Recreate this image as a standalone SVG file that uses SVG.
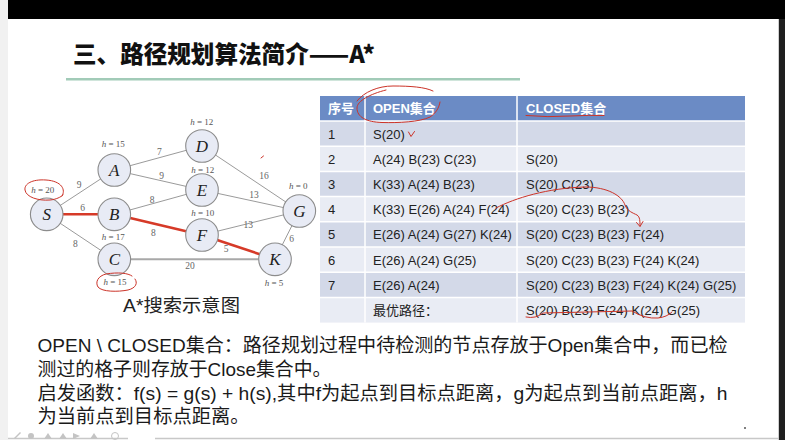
<svg xmlns="http://www.w3.org/2000/svg" width="785" height="440" viewBox="0 0 785 440">
<style>
.node circle{fill:#e8ebf5;stroke:#8c8c8c;stroke-width:1.1}
.nl{font-family:"Liberation Serif",serif;font-style:italic;font-size:17px;fill:#222;text-anchor:middle}
.hl{font-family:"Liberation Serif",serif;font-size:9px;fill:#555;text-anchor:middle}
.el{font-family:"Liberation Serif",serif;font-size:9.5px;fill:#666;text-anchor:middle}
.e{stroke:#8f8f8f;stroke-width:0.9;fill:none}
.er{stroke:#d63a28;stroke-width:2.6;fill:none}
.ann{stroke:#cc3328;stroke-width:1;fill:none;stroke-linecap:round}
.td{font-family:"Liberation Sans","Noto Sans CJK SC",sans-serif;font-size:13px;fill:#222}
.th{font-family:"Liberation Sans","Noto Sans CJK SC",sans-serif;font-size:13px;fill:#fff;font-weight:bold}
.bt{font-family:"Liberation Sans","Noto Sans CJK SC",sans-serif;font-size:19px;fill:#1a1a1a}
.dk{fill:#d3d9e8}
.lt{fill:#e9ecf4}
</style>
<rect width="785" height="440" fill="#ffffff"/>
<rect x="0" y="0" width="8" height="440" fill="#f1f1f1"/>
<rect x="8" y="0" width="777" height="19" fill="#000"/>
<rect x="779" y="19" width="6" height="421" fill="#1f1f1f"/>
<line x1="778.5" y1="19" x2="778.5" y2="440" stroke="#cfcfcf" stroke-width="1"/>

<!-- title -->
<text x="73" y="63" font-family="'Noto Sans CJK SC','Liberation Sans',sans-serif" font-size="24" font-weight="900" fill="#111" textLength="302" lengthAdjust="spacingAndGlyphs">三、路径规划算法简介——A*</text>
<rect x="66" y="78" width="454" height="2.5" fill="#a2cbb8"/>

<!-- connectors -->
<g id="edges">
<line class="e" x1="46.7" y1="214.3" x2="114.3" y2="170"/>
<line class="e" x1="46.7" y1="214.3" x2="114.3" y2="259.3"/>
<line class="e" x1="114.3" y1="170" x2="202" y2="146"/>
<line class="e" x1="114.3" y1="170" x2="202" y2="190"/>
<line class="e" x1="114.3" y1="214.3" x2="202" y2="190"/>
<line class="e" x1="202" y1="146" x2="299.3" y2="211"/>
<line class="e" x1="202" y1="190" x2="299.3" y2="211"/>
<line class="e" x1="202" y1="235" x2="299.3" y2="211"/>
<line class="e" x1="299.3" y1="211" x2="275" y2="259.3"/>
<line x1="114.3" y1="259.3" x2="275" y2="259.3" stroke="#a8a8a8" stroke-width="2"/>
<line class="er" x1="46.7" y1="214.3" x2="114.3" y2="214.3"/>
<line class="er" x1="114.3" y1="214.3" x2="202" y2="235"/>
<line class="er" x1="202" y1="235" x2="275" y2="259.3"/>
<text class="el" x="79" y="187.5">9</text>
<text class="el" x="82.7" y="211.2">6</text>
<text class="el" x="75.3" y="247.2">8</text>
<text class="el" x="159.3" y="155.2">7</text>
<text class="el" x="161.7" y="179.2">9</text>
<text class="el" x="152" y="202.5">8</text>
<text class="el" x="153.3" y="235.5">8</text>
<text class="el" x="264" y="179.2">16</text>
<text class="el" x="254" y="197.5">13</text>
<text class="el" x="248.3" y="227.5">13</text>
<text class="el" x="226" y="251.5">5</text>
<text class="el" x="291.7" y="241.5">6</text>
<text class="el" x="190" y="269.2">20</text>
</g>

<!-- nodes -->
<g id="node-S" class="node"><circle cx="46.7" cy="214.3" r="16.3"/><text class="nl" x="46.7" y="220.3">S</text><text class="hl" x="42.7" y="193"><tspan font-style="italic">h</tspan> = 20</text></g>
<g id="node-A" class="node"><circle cx="114.3" cy="170" r="16.3"/><text class="nl" x="114.3" y="176">A</text><text class="hl" x="113.3" y="147.2"><tspan font-style="italic">h</tspan> = 15</text></g>
<g id="node-B" class="node"><circle cx="114.3" cy="214.3" r="16.3"/><text class="nl" x="114.3" y="220.3">B</text></g>
<g id="node-C" class="node"><circle cx="114.3" cy="259.3" r="16.3"/><text class="nl" x="114.3" y="265.3">C</text><text class="hl" x="113.3" y="239.7"><tspan font-style="italic">h</tspan> = 17</text><text class="hl" x="115" y="284.8"><tspan font-style="italic">h</tspan> = 15</text></g>
<g id="node-D" class="node"><circle cx="202" cy="146" r="16.3"/><text class="nl" x="202" y="152">D</text><text class="hl" x="201.7" y="125.3"><tspan font-style="italic">h</tspan> = 12</text></g>
<g id="node-E" class="node"><circle cx="202" cy="190" r="16.3"/><text class="nl" x="202" y="196">E</text><text class="hl" x="202.7" y="173"><tspan font-style="italic">h</tspan> = 12</text></g>
<g id="node-F" class="node"><circle cx="202" cy="235" r="16.3"/><text class="nl" x="202" y="241">F</text><text class="hl" x="202.7" y="216.3"><tspan font-style="italic">h</tspan> = 10</text></g>
<g id="node-G" class="node"><circle cx="299.3" cy="211" r="16.3"/><text class="nl" x="299.3" y="217">G</text><text class="hl" x="298.3" y="189"><tspan font-style="italic">h</tspan> = 0</text></g>
<g id="node-K" class="node"><circle cx="275" cy="259.3" r="16.3"/><text class="nl" x="275" y="265.3">K</text><text class="hl" x="274" y="285.8"><tspan font-style="italic">h</tspan> = 5</text></g>

<!-- graph annotations -->
<path class="ann" d="M62,196 C66,190 62,181 46,180 C32,179 24,184 25,190 C26,197 38,201 50,200 C56,199.5 61,197 63,195"/>
<path class="ann" d="M132,276 C128,273 118,272 106,274 C98,276 95,282 98,287 C102,292 118,292 128,290 C136,288 138,283 135,279"/>
<path class="ann" d="M261,158 L263.5,156" stroke-width="1.4"/>

<text x="123" y="312" font-family="'Liberation Sans','Noto Sans CJK SC',sans-serif" font-size="18.5" fill="#222" textLength="117" lengthAdjust="spacingAndGlyphs">A*搜索示意图</text>

<!-- table -->
<g id="table">
<rect x="320" y="96" width="425" height="25" fill="#6b8bc5"/>
<rect class="dk" x="320" y="121" width="425" height="25.2"/>
<rect class="lt" x="320" y="146.2" width="425" height="25.2"/>
<rect class="dk" x="320" y="171.4" width="425" height="25.2"/>
<rect class="lt" x="320" y="196.6" width="425" height="25.2"/>
<rect class="dk" x="320" y="221.8" width="425" height="25.2"/>
<rect class="lt" x="320" y="247" width="425" height="25.2"/>
<rect class="dk" x="320" y="272.2" width="425" height="25.2"/>
<rect class="lt" x="320" y="297.4" width="425" height="25.2"/>
<g stroke="#fff" stroke-width="1.5">
<line x1="320" y1="121" x2="745" y2="121"/>
<line x1="320" y1="146.2" x2="745" y2="146.2"/>
<line x1="320" y1="171.4" x2="745" y2="171.4"/>
<line x1="320" y1="196.6" x2="745" y2="196.6"/>
<line x1="320" y1="221.8" x2="745" y2="221.8"/>
<line x1="320" y1="247" x2="745" y2="247"/>
<line x1="320" y1="272.2" x2="745" y2="272.2"/>
<line x1="320" y1="297.4" x2="745" y2="297.4"/>
<line x1="365" y1="96" x2="365" y2="322.6"/>
<line x1="517" y1="96" x2="517" y2="322.6"/>
</g>
<text class="th" x="328" y="113" font-weight="normal" font-size="14">序号</text>
<text class="th" x="373" y="113">OPEN集合</text>
<text class="th" x="526" y="113">CLOSED集合</text>
<text class="td" x="328" y="138.5">1</text><text class="td" x="373" y="138.5">S(20)</text>
<text class="td" x="328" y="163.7">2</text><text class="td" x="373" y="163.7">A(24) B(23) C(23)</text><text class="td" x="526" y="163.7">S(20)</text>
<text class="td" x="328" y="188.9">3</text><text class="td" x="373" y="188.9">K(33) A(24) B(23)</text><text class="td" x="526" y="188.9">S(20) C(23)</text>
<text class="td" x="328" y="214.1">4</text><text class="td" x="373" y="214.1">K(33) E(26) A(24) F(24)</text><text class="td" x="526" y="214.1">S(20) C(23) B(23)</text>
<text class="td" x="328" y="239.3">5</text><text class="td" x="373" y="239.3">E(26) A(24) G(27) K(24)</text><text class="td" x="526" y="239.3">S(20) C(23) B(23) F(24)</text>
<text class="td" x="328" y="264.5">6</text><text class="td" x="373" y="264.5">E(26) A(24) G(25)</text><text class="td" x="526" y="264.5">S(20) C(23) B(23) F(24) K(24)</text>
<text class="td" x="328" y="289.7">7</text><text class="td" x="373" y="289.7">E(26) A(24)</text><text class="td" x="526" y="289.7">S(20) C(23) B(23) F(24) K(24) G(25)</text>
<text class="td" x="373" y="314.9" fill="#666">最优路径：</text><text class="td" x="526" y="314.9">S(20) B(23) F(24) K(24) G(25)</text>
</g>

<!-- table annotations -->
<g class="ann">
<path d="M357,101 C364,92 378,86 393,86 C410,86 425,87 433,91"/>
<path d="M386,90 C370,94 357,101 357,108 C357,117 366,122 382,122.5 C398,123 420,122 430,117 C436,113 439,108 440,102"/>
<path d="M526,115.5 Q548,117.5 570,116 Q590,115 604,115.5"/>
<path d="M408.5,132 L411,136.5 L414.5,131.5"/>
<path d="M496,208 C515,198 548,188 585,187 C608,187 622,196 625,205 C627,211 633,213 637,215 C640,217 640,221 640,226"/>
<path d="M636.5,222.5 L640,226.5 L643,221.5"/>
<path d="M526,317 Q536,319 543,313 L632,311 Q645,319 658,318 Q667,317 672,312"/>
</g>

<!-- description -->
<text class="bt" x="37.5" y="352" textLength="690" lengthAdjust="spacingAndGlyphs">OPEN \ CLOSED集合：路径规划过程中待检测的节点存放于Open集合中，而已检</text>
<text class="bt" x="37.5" y="376" textLength="294" lengthAdjust="spacingAndGlyphs">测过的格子则存放于Close集合中。</text>
<text class="bt" x="37.5" y="399.5" textLength="690" lengthAdjust="spacingAndGlyphs">启发函数：f(s) = g(s) + h(s),其中f为起点到目标点距离，g为起点到当前点距离，h</text>
<text class="bt" x="37.5" y="423" textLength="212" lengthAdjust="spacingAndGlyphs">为当前点到目标点距离。</text>

<!-- bottom toolbar -->
<line x1="8" y1="438.5" x2="128" y2="438.5" stroke="#c8c8c8" stroke-width="1.5"/>
<line x1="155" y1="438.5" x2="779" y2="438.5" stroke="#c8c8c8" stroke-width="1.5"/>
<g fill="#c4c4c4">
<path d="M14,438 L20,432 L21,433 L15,439 Z"/>
<circle cx="31" cy="436" r="3"/>
<path d="M44,439 L48,433 L52,439 Z"/>
<path d="M59,439 L63,433 L67,439 Z"/>
<path d="M73,439 L73,433 L80,436 Z"/>
<path d="M90,439 L94,433 L98,439 Z"/>
<circle cx="115" cy="436" r="3.5" fill="none" stroke="#c4c4c4"/>
</g>
<circle cx="745" cy="428" r="1" fill="#555"/>
</svg>
